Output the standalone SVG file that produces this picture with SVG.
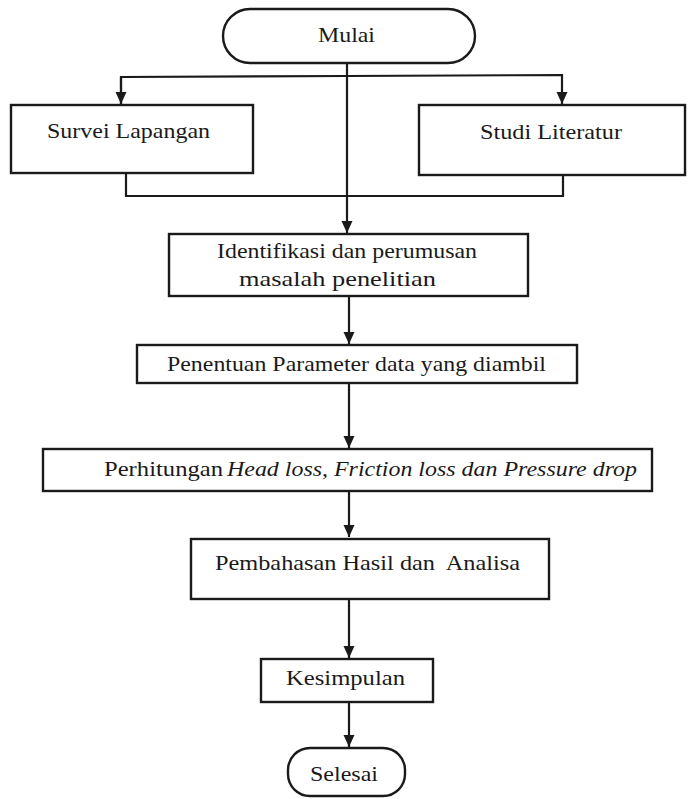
<svg xmlns="http://www.w3.org/2000/svg" width="694" height="799" viewBox="0 0 694 799">
<style>
.box{fill:#fff;stroke:#1a1a1a;stroke-width:2.4}
.t{font-family:"Liberation Serif","Times New Roman",serif;font-size:21px;fill:#1a1a1a}
.i{font-style:italic}
.c{fill:none;stroke:#1a1a1a;stroke-width:2.2}
</style>
<defs>
<marker id="ah" markerUnits="userSpaceOnUse" markerWidth="12" markerHeight="12" viewBox="0 0 12 12" refX="12" refY="6" orient="auto">
<path d="M0,0.5 L12,6 L0,11.5 Z" fill="#1a1a1a"/>
</marker>
</defs>
<rect width="694" height="799" fill="#fff"/>
<g id="connectors">
<line class="c" x1="347" y1="63" x2="347" y2="233" marker-end="url(#ah)"/>
<polyline class="c" points="121,105 121,77 347,76 562,75 562,104" marker-end="url(#ah)"/>
<line class="c" x1="121" y1="77" x2="121" y2="104" marker-end="url(#ah)"/>
<polyline class="c" points="126,173 126,196 563,196 563,175"/>
<line class="c" x1="349" y1="296" x2="349" y2="344" marker-end="url(#ah)"/>
<line class="c" x1="349" y1="383" x2="349" y2="448" marker-end="url(#ah)"/>
<line class="c" x1="349" y1="491" x2="349" y2="537" marker-end="url(#ah)"/>
<line class="c" x1="349" y1="599" x2="349" y2="658" marker-end="url(#ah)"/>
<line class="c" x1="349" y1="702" x2="349" y2="747" marker-end="url(#ah)"/>
</g>
<g id="mulai">
<rect class="box" x="223" y="9" width="252" height="54" rx="27"/>
<text class="t" x="318" y="42" textLength="57" lengthAdjust="spacingAndGlyphs">Mulai</text>
</g>
<g id="survei">
<rect class="box" x="11" y="105" width="242" height="68"/>
<text class="t" x="47" y="138" textLength="163" lengthAdjust="spacingAndGlyphs">Survei Lapangan</text>
</g>
<g id="studi">
<rect class="box" x="419" y="105" width="266" height="70"/>
<text class="t" x="480" y="139" textLength="142" lengthAdjust="spacingAndGlyphs">Studi Literatur</text>
</g>
<g id="identifikasi">
<rect class="box" x="169" y="234" width="359" height="62"/>
<text class="t" x="217" y="258" textLength="260" lengthAdjust="spacingAndGlyphs">Identifikasi dan perumusan</text>
<text class="t" x="239" y="286" textLength="197" lengthAdjust="spacingAndGlyphs">masalah penelitian</text>
</g>
<g id="penentuan">
<rect class="box" x="137" y="345" width="440" height="38"/>
<text class="t" x="167" y="371" textLength="379" lengthAdjust="spacingAndGlyphs">Penentuan Parameter data yang diambil</text>
</g>
<g id="perhitungan">
<rect class="box" x="43" y="449" width="609" height="42"/>
<text class="t" x="104" y="476" textLength="119" lengthAdjust="spacingAndGlyphs">Perhitungan</text>
<text class="t i" x="227" y="476" textLength="410" lengthAdjust="spacingAndGlyphs">Head loss, Friction loss dan Pressure drop</text>
</g>
<g id="pembahasan">
<rect class="box" x="191" y="539" width="358" height="60"/>
<text class="t" x="215" y="570" textLength="305" lengthAdjust="spacingAndGlyphs" xml:space="preserve">Pembahasan Hasil dan  Analisa</text>
</g>
<g id="kesimpulan">
<rect class="box" x="261" y="659" width="172" height="43"/>
<text class="t" x="286" y="685" textLength="119" lengthAdjust="spacingAndGlyphs">Kesimpulan</text>
</g>
<g id="selesai">
<rect class="box" x="288" y="748" width="117" height="48" rx="22"/>
<text class="t" x="310" y="781" textLength="68" lengthAdjust="spacingAndGlyphs">Selesai</text>
</g>
</svg>
